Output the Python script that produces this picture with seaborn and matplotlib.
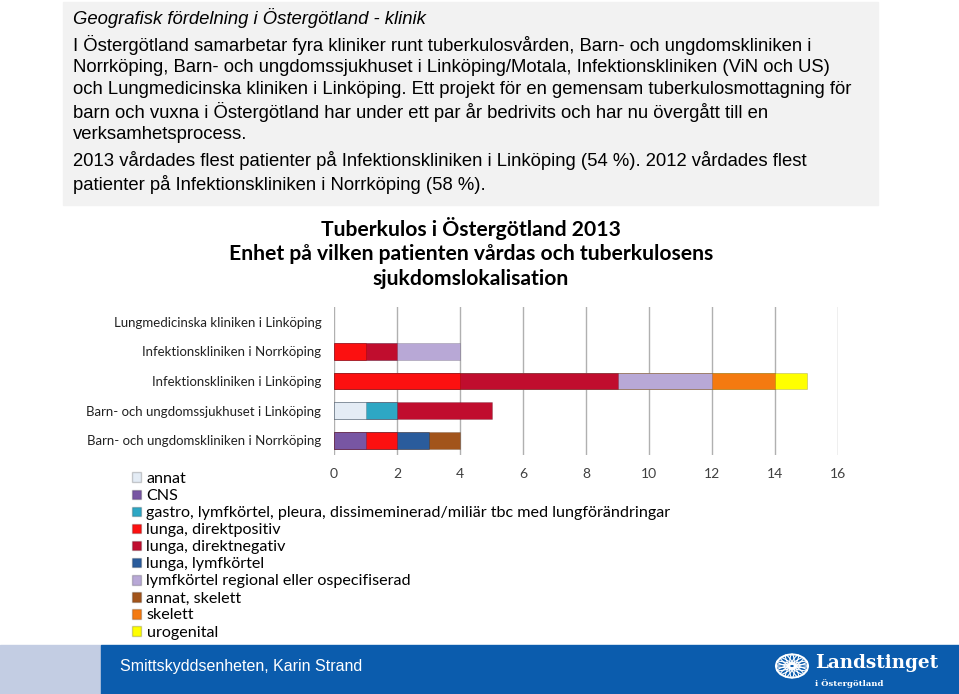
import matplotlib
matplotlib.use("Agg")
import matplotlib.pyplot as plt
from matplotlib.patches import Patch, Rectangle, Circle, Ellipse
import seaborn as sns
import pandas as pd

# --- data ---
clinics = [
    "Lungmedicinska kliniken i Linköping",
    "Infektionskliniken i Norrköping",
    "Infektionskliniken i Linköping",
    "Barn- och ungdomssjukhuset i Linköping",
    "Barn- och ungdomskliniken i Norrköping",
]
categories = [
    "annat",
    "CNS",
    "gastro, lymfkörtel, pleura, dissimeminerad/miliär tbc med lungförändringar",
    "lunga, direktpositiv",
    "lunga, direktnegativ",
    "lunga, lymfkörtel",
    "lymfkörtel regional eller ospecifiserad",
    "annat, skelett",
    "skelett",
    "urogenital",
]
# one list per category, values in clinic order
annat = [0, 0, 0, 1, 0]
cns = [0, 0, 0, 0, 1]
gastro = [0, 0, 0, 1, 0]
lunga_dirpos = [0, 1, 4, 0, 1]
lunga_dirneg = [0, 1, 5, 3, 0]
lunga_lymf = [0, 0, 0, 0, 1]
lymf_regional = [0, 2, 3, 0, 0]
annat_skelett = [0, 0, 0, 0, 1]
skelett = [0, 0, 2, 0, 0]
urogenital = [0, 0, 1, 0, 0]
series = [annat, cns, gastro, lunga_dirpos, lunga_dirneg, lunga_lymf,
          lymf_regional, annat_skelett, skelett, urogenital]
colors = ["#e4ecf5", "#7856a3", "#2ea7c4", "#fc1010", "#c00d2e",
          "#2a5c9c", "#b8a8d6", "#a2541b", "#f47a10", "#ffff00"]
x_ticks = [0, 2, 4, 6, 8, 10, 12, 14, 16]

rows = []
for cat, vals in zip(categories, series):
    for clinic, v in zip(clinics, vals):
        rows.append({"clinic": clinic, "category": cat, "value": v})
df = pd.DataFrame(rows)
df["category"] = pd.Categorical(df["category"], categories=categories, ordered=True)
df = df.sort_values(["clinic", "category"])
df["cum"] = df.groupby("clinic")["value"].cumsum()
df.loc[df["value"] == 0, "cum"] = 0

W, H = 959, 694
fig = plt.figure(figsize=(W / 100, H / 100), dpi=100)


def fx(px):
    return px / W


def fy(py):
    return 1 - py / H


# grey text box at the top
fig.patches.append(Rectangle((fx(63), fy(205)), fx(878) - fx(63), fy(2) - fy(205),
                             transform=fig.transFigure, color="#f2f2f2", zorder=0))
txt_font = "Liberation Sans"
txt_size = 13.35
fig.text(fx(73), fy(18), "Geografisk fördelning i Östergötland - klinik",
         fontsize=txt_size, style="italic", family=txt_font, va="center")
para1 = [
    "I Östergötland samarbetar fyra kliniker runt tuberkulosvården, Barn- och ungdomskliniken i",
    "Norrköping, Barn- och ungdomssjukhuset i Linköping/Motala, Infektionskliniken (ViN och US)",
    "och Lungmedicinska kliniken i Linköping. Ett projekt för en gemensam tuberkulosmottagning för",
    "barn och vuxna i Östergötland har under ett par år bedrivits och har nu övergått till en",
    "verksamhetsprocess.",
]
for i, line in enumerate(para1):
    fig.text(fx(73), fy(45 + i * 22.3), line, fontsize=txt_size, family=txt_font, va="center")
para2 = [
    "2013 vårdades flest patienter på Infektionskliniken i Linköping (54 %). 2012 vårdades flest",
    "patienter på Infektionskliniken i Norrköping (58 %).",
]
for i, line in enumerate(para2):
    fig.text(fx(73), fy(161 + i * 23), line, fontsize=txt_size, family=txt_font, va="center")

# chart title
chart_font = "Lato"
for line, y in zip(["Tuberkulos i Östergötland 2013",
                    "Enhet på vilken patienten vårdas och tuberkulosens",
                    "sjukdomslokalisation"], [229, 254, 279]):
    fig.text(fx(471), fy(y), line, fontsize=15.2, fontweight="bold",
             family=chart_font, ha="center", va="center")

# stacked bars
ax = fig.add_axes([fx(334), fy(455), fx(838) - fx(334), fy(307) - fy(455)])
for cat, col in reversed(list(zip(categories, colors))):
    sub = df[df["category"] == cat]
    sns.barplot(data=sub, y="clinic", x="cum", order=clinics, color=col,
                saturation=1, width=0.57, errorbar=None,
                edgecolor="#00000030", linewidth=0.6, ax=ax, zorder=3)
for p in ax.patches:
    if p.get_width() == 0:
        p.set_visible(False)

ax.set_xlim(0, 16)
ax.set_xticks(x_ticks)
ax.set_xticklabels([str(t) for t in x_ticks], family=chart_font, fontsize=10, color="#404040")
ax.set_yticks(range(len(clinics)))
ax.set_yticklabels(clinics, family=chart_font, fontsize=9.5, color="#222222")
ax.tick_params(axis="both", length=0)
ax.tick_params(axis="x", pad=9)
ax.tick_params(axis="y", pad=9)
ax.set_xlabel("")
ax.set_ylabel("")
for s in ax.spines.values():
    s.set_visible(False)
ax.grid(axis="x", color="#b0b0b0", linewidth=1, zorder=0)
ax.set_axisbelow(True)
ax.set_facecolor("none")

# legend
handles = [Patch(facecolor=c, edgecolor="#00000030") for c in colors]
fig.legend(handles, categories, loc="upper left", bbox_to_anchor=(fx(132), fy(472)),
           frameon=False, prop={"family": chart_font, "size": 11.6},
           handlelength=0.55, handleheight=0.55, handletextpad=0.35,
           labelspacing=0.19, borderaxespad=0, borderpad=0)

# footer band
fig.patches.append(Rectangle((0, 0), fx(101), fy(645), transform=fig.transFigure,
                             color="#c3cde3", zorder=0))
fig.patches.append(Rectangle((fx(101), 0), 1 - fx(101), fy(645), transform=fig.transFigure,
                             color="#0b5cad", zorder=0))
fig.text(fx(120), fy(666), "Smittskyddsenheten, Karin Strand", color="white",
         fontsize=11.5, family=txt_font, va="center")
# logo
fig.patches.append(Circle((fx(792), fy(666)), 16 / W, transform=fig.transFigure,
                          fill=False, edgecolor="white", linewidth=1.4))
for k in range(8):
    fig.patches.append(Ellipse((fx(792), fy(666)), 5 / W, 24 / H, angle=k * 22.5,
                               transform=fig.transFigure, fill=False,
                               edgecolor="white", linewidth=0.8))
fig.text(fx(815), fy(663), "Landstinget", color="white", fontsize=13.2,
         fontweight="bold", family="DejaVu Serif", va="center")
fig.text(fx(815), fy(684), "i Östergötland", color="white", fontsize=6,
         fontweight="bold", family="DejaVu Serif", va="center")

fig.savefig("out.png", dpi=100)
